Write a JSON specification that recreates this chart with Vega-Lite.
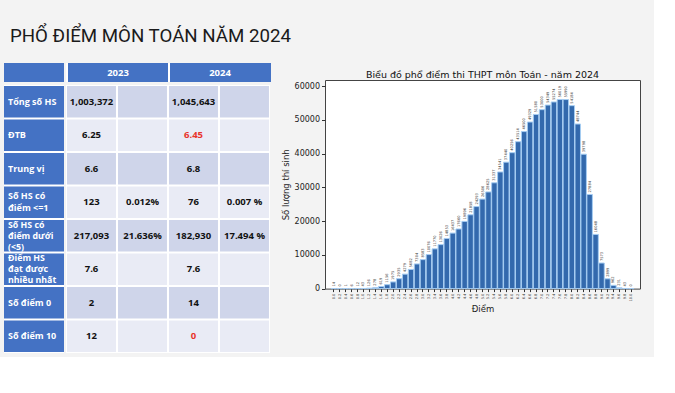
{
  "$schema": "https://vega.github.io/schema/vega-lite/v6.json",
  "background": "#f3f3f3",
  "padding": {"left": 4, "top": 26, "right": 13, "bottom": 4},
  "title": {"text": "PHỔ ĐIỂM MÔN TOÁN NĂM 2024", "anchor": "start", "font": "Roboto", "fontSize": 18.7, "fontWeight": "normal", "color": "#1a1a1a", "dx": 6, "offset": 12},
  "config": {"view": {"stroke": null}},
  "datasets": {
    "tbl": [
      {"row": "r1", "label": "Tổng số HS", "c2023": "1,003,372", "p2023": "", "c2024": "1,045,643", "p2024": ""},
      {"row": "r2", "label": "ĐTB", "c2023": "6.25", "p2023": "", "c2024": "6.45", "p2024": ""},
      {"row": "r3", "label": "Trung vị", "c2023": "6.6", "p2023": "", "c2024": "6.8", "p2024": ""},
      {"row": "r4", "label": "Số HS có\nđiểm <=1", "c2023": "123", "p2023": "0.012%", "c2024": "76", "p2024": "0.007 %"},
      {"row": "r5", "label": "Số HS có\nđiểm dưới\n(<5)", "c2023": "217,093", "p2023": "21.636%", "c2024": "182,930", "p2024": "17.494 %"},
      {"row": "r6", "label": "Điểm HS\nđạt được\nnhiều nhất", "c2023": "7.6", "p2023": "", "c2024": "7.6", "p2024": ""},
      {"row": "r7", "label": "Số điểm 0", "c2023": "2", "p2023": "", "c2024": "14", "p2024": ""},
      {"row": "r8", "label": "Số điểm 10", "c2023": "12", "p2023": "", "c2024": "0", "p2024": ""}
    ],
    "scores": [
      {"s": "0.0", "n": 14}, {"s": "0.2", "n": 0}, {"s": "0.4", "n": 1}, {"s": "0.6", "n": 6}, {"s": "0.8", "n": 12},
      {"s": "1.0", "n": 43}, {"s": "1.2", "n": 126}, {"s": "1.4", "n": 278}, {"s": "1.6", "n": 619}, {"s": "1.8", "n": 1156},
      {"s": "2.0", "n": 1975}, {"s": "2.2", "n": 2935}, {"s": "2.4", "n": 4279}, {"s": "2.6", "n": 5682}, {"s": "2.8", "n": 7304},
      {"s": "3.0", "n": 8583}, {"s": "3.2", "n": 10076}, {"s": "3.4", "n": 11770}, {"s": "3.6", "n": 13026}, {"s": "3.8", "n": 14853},
      {"s": "4.0", "n": 16437}, {"s": "4.2", "n": 17660}, {"s": "4.4", "n": 19896}, {"s": "4.6", "n": 21858}, {"s": "4.8", "n": 24293},
      {"s": "5.0", "n": 26506}, {"s": "5.2", "n": 28625}, {"s": "5.4", "n": 31337}, {"s": "5.6", "n": 34541}, {"s": "5.8", "n": 37440},
      {"s": "6.0", "n": 40256}, {"s": "6.2", "n": 43514}, {"s": "6.4", "n": 46500}, {"s": "6.6", "n": 49329}, {"s": "6.8", "n": 51580},
      {"s": "7.0", "n": 53000}, {"s": "7.2", "n": 54349}, {"s": "7.4", "n": 55274}, {"s": "7.6", "n": 56019}, {"s": "7.8", "n": 55990},
      {"s": "8.0", "n": 54184}, {"s": "8.2", "n": 48744}, {"s": "8.4", "n": 39798}, {"s": "8.6", "n": 27884}, {"s": "8.8", "n": 16048},
      {"s": "9.0", "n": 7573}, {"s": "9.2", "n": 2899}, {"s": "9.4", "n": 962}, {"s": "9.6", "n": 231}, {"s": "9.8", "n": 43},
      {"s": "10.0", "n": 0}
    ]
  },
  "spacing": 9,
  "hconcat": [
    {
      "spacing": 2,
      "vconcat": [
        {
          "spacing": 2,
          "hconcat": [
            {
              "width": 60, "height": 19,
              "view": {"fill": "#4472c4", "stroke": null},
              "data": {"values": [{"key": "label"}]},
              "mark": {"type": "text", "text": ""},
              "encoding": {}
            },
            {
              "width": 204, "height": 19,
              "view": {"fill": "#4472c4", "stroke": null},
              "data": {"values": [{"key": "c2023", "text": "2023"}, {"key": "c2024", "text": "2024"}]},
              "layer": [
                {
                  "mark": {"type": "rule", "color": "white", "strokeWidth": 2},
                  "encoding": {
                    "x": {"field": "key", "type": "nominal", "bandPosition": 0, "scale": {"domain": ["c2023", "p2023", "c2024", "p2024"], "paddingInner": 0, "paddingOuter": 0}, "axis": null}
                  }
                },
                {
                  "mark": {"type": "text", "color": "white", "fontWeight": "bold", "fontSize": 9.5, "font": "Open Sans"},
                  "encoding": {
                    "x": {"field": "key", "type": "nominal", "bandPosition": 1, "scale": {"domain": ["c2023", "p2023", "c2024", "p2024"], "paddingInner": 0, "paddingOuter": 0}, "axis": null},
                    "text": {"field": "text"}
                  }
                }
              ]
            }
          ]
        },
        {
          "spacing": 2,
          "hconcat": [
            {
              "width": 60, "height": 268,
              "view": {"fill": "white", "stroke": null},
              "data": {"name": "tbl"},
              "transform": [{"fold": ["label"], "as": ["key", "val"]}],
              "encoding": {
                "x": {"field": "key", "type": "nominal", "scale": {"domain": ["label"], "paddingInner": 0, "paddingOuter": 0}, "axis": null},
                "y": {"field": "row", "type": "nominal", "scale": {"domain": ["r1", "r2", "r3", "r4", "r5", "r6", "r7", "r8"], "paddingInner": 0.06, "paddingOuter": 0.03}, "axis": null}
              },
              "layer": [
                {"mark": {"type": "rect", "color": "#4472c4"}},
                {
                  "transform": [{"filter": "indexof(['r4','r5','r6'], datum.row) < 0"}],
                  "mark": {"type": "text", "align": "left", "dx": 4, "color": "white", "fontWeight": "bold", "fontSize": 9, "font": "Open Sans", "lineBreak": "\n", "lineHeight": 12},
                  "encoding": {
                    "x": {"field": "key", "type": "nominal", "bandPosition": 0},
                    "text": {"field": "val"}
                  }
                },
                {
                  "transform": [{"filter": "datum.row === 'r4'"}],
                  "mark": {"type": "text", "align": "left", "dx": 4, "dy": -6, "color": "white", "fontWeight": "bold", "fontSize": 9, "font": "Open Sans", "lineBreak": "\n", "lineHeight": 12},
                  "encoding": {
                    "x": {"field": "key", "type": "nominal", "bandPosition": 0},
                    "text": {"field": "val"}
                  }
                },
                {
                  "transform": [{"filter": "datum.row === 'r5' || datum.row === 'r6'"}],
                  "mark": {"type": "text", "align": "left", "dx": 4, "dy": -11, "color": "white", "fontWeight": "bold", "fontSize": 8.8, "font": "Open Sans", "lineBreak": "\n", "lineHeight": 11},
                  "encoding": {
                    "x": {"field": "key", "type": "nominal", "bandPosition": 0},
                    "text": {"field": "val"}
                  }
                }
              ]
            },
            {
              "width": 204, "height": 268,
              "view": {"fill": "white", "stroke": null},
              "data": {"name": "tbl"},
              "transform": [{"fold": ["c2023", "p2023", "c2024", "p2024"], "as": ["key", "val"]}],
              "encoding": {
                "x": {"field": "key", "type": "nominal", "scale": {"domain": ["c2023", "p2023", "c2024", "p2024"], "paddingInner": 0.04, "paddingOuter": 0.02}, "axis": null},
                "y": {"field": "row", "type": "nominal", "scale": {"domain": ["r1", "r2", "r3", "r4", "r5", "r6", "r7", "r8"], "paddingInner": 0.06, "paddingOuter": 0.03}, "axis": null}
              },
              "layer": [
                {
                  "mark": {"type": "rect"},
                  "encoding": {"color": {"condition": {"test": "indexof(['r1','r3','r5','r7'], datum.row) >= 0", "value": "#cfd5ea"}, "value": "#e9ebf5"}}
                },
                {
                  "mark": {"type": "text", "fontWeight": "bold", "fontSize": 9.5, "font": "Open Sans"},
                  "encoding": {
                    "text": {"field": "val"},
                    "color": {"condition": {"test": "datum.key === 'c2024' && (datum.row === 'r2' || datum.row === 'r8')", "value": "#e8332a"}, "value": "#111111"}
                  }
                }
              ]
            }
          ]
        }
      ]
    },
    {
      "spacing": 0,
      "vconcat": [
        {
          "width": 315, "height": 1,
          "view": {"fill": null, "stroke": null},
          "data": {"values": [{"k": "spacer"}]},
          "mark": {"type": "text", "text": ""},
          "encoding": {}
        },
        {
          "width": 315, "height": 208.6,
          "title": {"text": "Biểu đồ phổ điểm thi THPT môn Toán - năm 2024", "font": "DejaVu Sans", "fontSize": 9.5, "fontWeight": "normal", "color": "#111111", "offset": 1},
          "view": {"fill": "white", "stroke": "#444444", "strokeWidth": 1},
          "data": {"name": "scores"},
          "encoding": {
            "x": {
              "field": "s", "type": "ordinal", "sort": null, "title": "Điểm",
              "scale": {"paddingInner": 0.08, "paddingOuter": 2.4},
              "axis": {"labelAngle": 270, "labelFontSize": 3.6, "labelFont": "DejaVu Sans", "labelColor": "#333333", "labelOverlap": false, "domain": false, "tickSize": 3, "tickColor": "#333333", "labelPadding": 1.5, "titleFont": "DejaVu Sans", "titleFontSize": 8.5, "titleFontWeight": "normal", "titleColor": "#222222", "titlePadding": 3}
            },
            "y": {
              "field": "n", "type": "quantitative", "title": "Số lượng thí sinh",
              "scale": {"domain": [0, 61780], "nice": false},
              "axis": {"values": [0, 10000, 20000, 30000, 40000, 50000, 60000], "format": "d", "grid": false, "domain": false, "tickSize": 3.5, "tickColor": "#333333", "labelFontSize": 8, "labelFont": "DejaVu Sans", "labelColor": "#222222", "labelPadding": 2, "titleFont": "DejaVu Sans", "titleFontSize": 8.5, "titleFontWeight": "normal", "titleColor": "#222222", "titlePadding": 4}
            }
          },
          "layer": [
            {"mark": {"type": "bar", "fill": "#3369ad", "stroke": "#a6cdf2", "strokeWidth": 1}},
            {
              "mark": {"type": "text", "angle": 270, "align": "left", "baseline": "middle", "dx": 2, "fontSize": 3.6, "font": "DejaVu Sans", "color": "#333333"},
              "encoding": {"text": {"field": "n", "type": "quantitative", "format": "d"}}
            }
          ]
        }
      ]
    }
  ]
}
